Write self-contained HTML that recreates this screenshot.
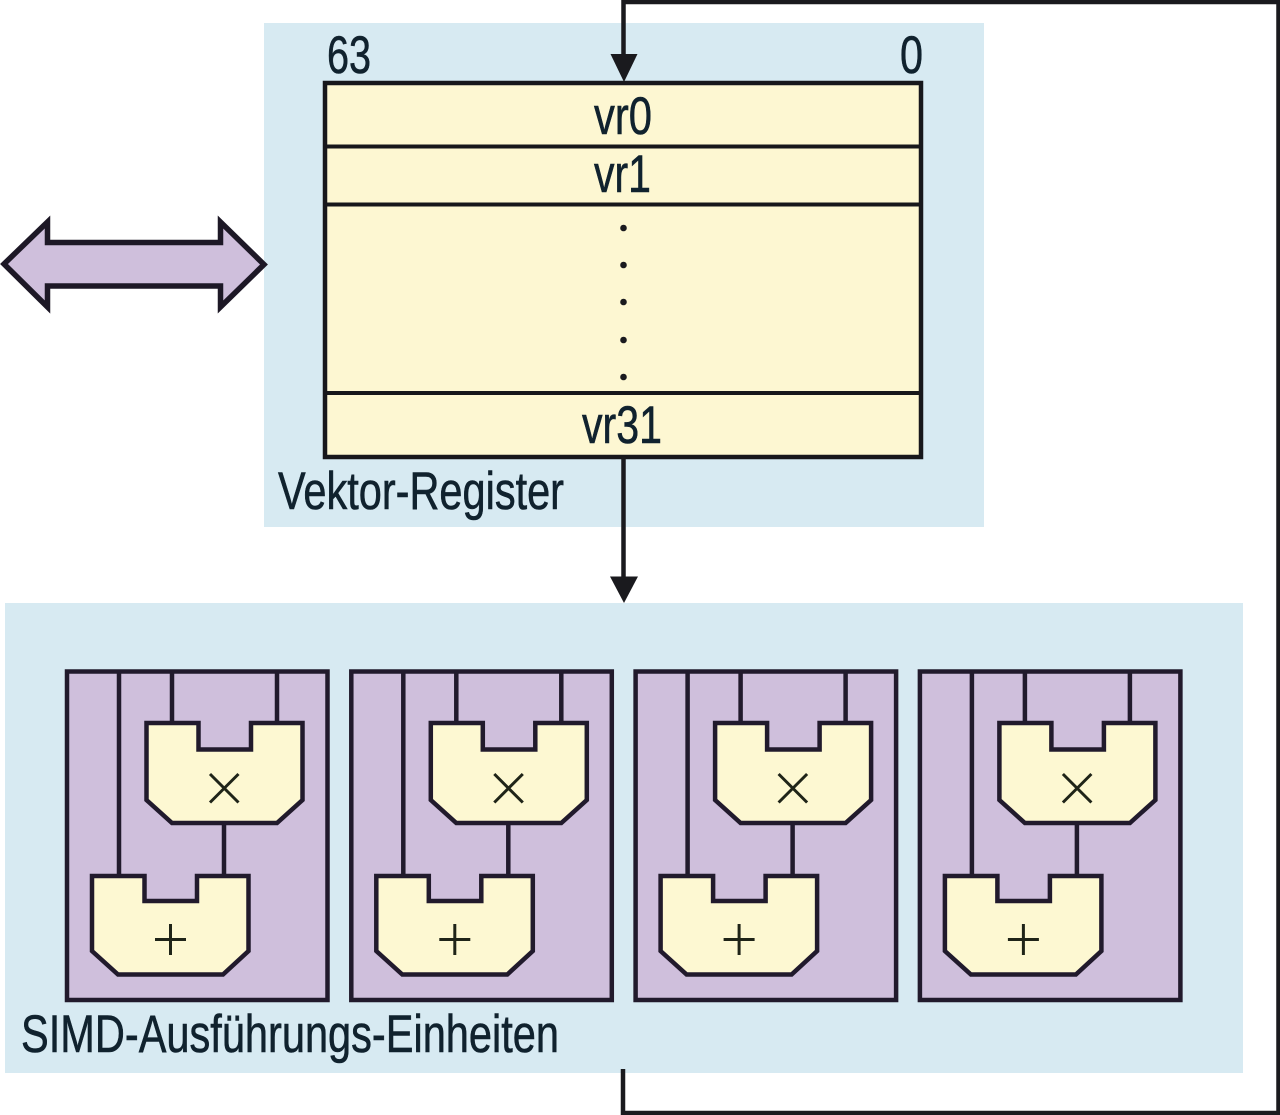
<!DOCTYPE html>
<html><head><meta charset="utf-8"><title>SIMD</title>
<style>html,body{margin:0;padding:0;background:#fff}svg{display:block}
text{font-family:"Liberation Sans",sans-serif;fill:#10222e;stroke:#10222e;stroke-width:.6px;font-size:53px}</style></head>
<body>
<svg width="1280" height="1115" viewBox="0 0 1280 1115" xmlns="http://www.w3.org/2000/svg">
<defs>
<g id="u">
<rect x="67" y="671.5" width="260.500" height="328.500" fill="#cfbfdc" stroke="#211a2c" stroke-width="4.500"/>
<path d="M119 671V875M172 671V723M277 671V723M224 823V875" fill="none" stroke="#211a2c" stroke-width="4.500"/>
<path d="M146.500 723H198.500V749.500H251V723H302.500V800L277 823H172L146.500 800Z" fill="#fdf8d2" stroke="#211a2c" stroke-width="4.500"/>
<path d="M92 876H144.500V901H197V876H248.500V951L223 974.500H118L92 951Z" fill="#fdf8d2" stroke="#211a2c" stroke-width="4.500"/>
<path d="M210 774L238.500 802.500M238.500 774L210 802.500M155 939.500H186M170.500 924V955" fill="none" stroke="#1f2418" stroke-width="3"/>
</g>
</defs>
<rect x="264" y="23" width="720" height="504" fill="#d7eaf2"/>
<rect x="5" y="603" width="1238" height="470" fill="#d7eaf2"/>
<path d="M623.500 55V2H1278.500V1113H623V1069" fill="none" stroke="#1a1a1e" stroke-width="4.500"/>
<path d="M610.500 54H637.500L624 82Z" fill="#1a1a1e" stroke="none"/>
<rect x="325" y="83" width="596" height="374" fill="#fdf7d2" stroke="#17171b" stroke-width="4.500"/>
<path d="M325 146.500H921M325 204.500H921M325 393H921" stroke="#17171b" stroke-width="4" fill="none"/>
<path d="M623.500 457V578" stroke="#1a1a1e" stroke-width="4.500" fill="none"/>
<path d="M610 576.500H638L624 603Z" fill="#1a1a1e"/>
<g fill="#1a1a1e"><circle cx="623.500" cy="228" r="3.300"/><circle cx="623.500" cy="265" r="3.300"/><circle cx="623.500" cy="302" r="3.300"/><circle cx="623.500" cy="340" r="3.300"/><circle cx="623.500" cy="377" r="3.300"/></g>
<path d="M4 264L47.500 222V242.500H220.500V222L264 264.500L220.500 307V286H47.500V307Z" fill="#cfbfdc" stroke="#1d1826" stroke-width="5.500"/>
<use href="#u"/>
<use href="#u" x="284.300"/>
<use href="#u" x="568.600"/>
<use href="#u" x="852.900"/>
<text x="327" y="73" textLength="44" lengthAdjust="spacingAndGlyphs">63</text>
<text x="900" y="73" textLength="23" lengthAdjust="spacingAndGlyphs">0</text>
<text x="594" y="134" textLength="58" lengthAdjust="spacingAndGlyphs">vr0</text>
<text x="594" y="192" textLength="57" lengthAdjust="spacingAndGlyphs">vr1</text>
<text x="582" y="443" textLength="80" lengthAdjust="spacingAndGlyphs">vr31</text>
<text x="278" y="509" textLength="286" lengthAdjust="spacingAndGlyphs">Vektor-Register</text>
<text x="21" y="1052" textLength="538" lengthAdjust="spacingAndGlyphs">SIMD-Ausführungs-Einheiten</text>
</svg>
</body></html>
